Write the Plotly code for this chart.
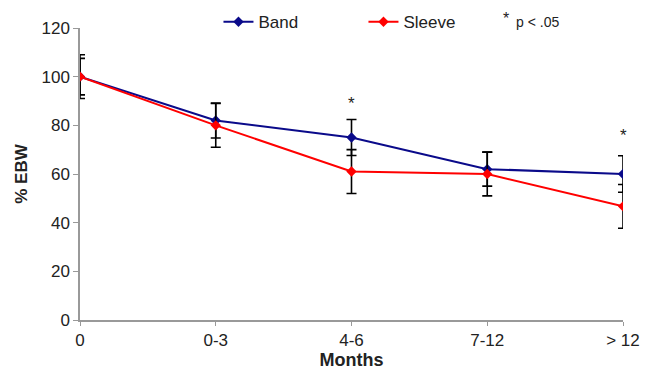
import plotly.graph_objects as go

categories = ["0", "0-3", "4-6", "7-12", "> 12"]
band_values = [100, 82, 75, 62, 60]
band_err = [7.5, 7.2, 7.4, 7.0, 7.5]
sleeve_values = [100, 80, 61, 60, 46.7]
sleeve_err = [9, 9, 9, 9, 9]
sig_positions = [2, 4]
sig_heights = [89, 76]
y_ticks = [0, 20, 40, 60, 80, 100, 120]

xs = list(range(len(categories)))
FONT = "Liberation Sans, Arial, sans-serif"

fig = go.Figure()
fig.add_trace(go.Scatter(
    x=xs, y=band_values, name="Band", mode="lines+markers",
    line=dict(color="#0a0a8a", width=2),
    marker=dict(symbol="diamond", size=8, color="#0a0a8a"),
    error_y=dict(type="data", array=band_err, visible=True, color="black", thickness=1.6, width=5),
))
fig.add_trace(go.Scatter(
    x=xs, y=sleeve_values, name="Sleeve", mode="lines+markers",
    line=dict(color="#ff0000", width=2),
    marker=dict(symbol="diamond", size=8, color="#ff0000"),
    error_y=dict(type="data", array=sleeve_err, visible=True, color="black", thickness=1.6, width=5),
))

for p, h in zip(sig_positions, sig_heights):
    fig.add_annotation(x=p, y=h, text="*", showarrow=False,
                       font=dict(family=FONT, size=17, color="#222"))

fig.add_annotation(xref="paper", yref="paper", x=0.777, y=1.066, text="*", showarrow=False,
                   xanchor="left", yanchor="top", borderpad=0,
                   font=dict(family=FONT, size=16, color="#222"))
fig.add_annotation(xref="paper", yref="paper", x=0.8, y=1.02, text="p < .05", showarrow=False,
                   xanchor="left", yanchor="middle", font=dict(family=FONT, size=14, color="#222"))

fig.update_layout(
    width=643, height=366,
    margin=dict(l=72, r=28, t=20, b=54, autoexpand=False),
    plot_bgcolor="white", paper_bgcolor="white",
    font=dict(family=FONT, size=17, color="#222"),
    showlegend=True,
    legend=dict(orientation="h", x=0.255, y=1.02, xanchor="left", yanchor="middle",
                entrywidth=100, entrywidthmode="pixels",
                font=dict(family=FONT, size=17, color="#222"),
                bgcolor="rgba(0,0,0,0)"),
    xaxis=dict(range=[0, 4], tickvals=xs, ticktext=categories,
               showgrid=False, zeroline=False, showline=True, linecolor="#999", linewidth=1.5,
               ticks="outside", ticklen=4, tickcolor="#999",
               title=dict(text="<b>Months</b>", font=dict(family=FONT, size=18), standoff=0)),
    yaxis=dict(range=[0, 120], tickvals=y_ticks,
               showgrid=False, zeroline=False, showline=True, linecolor="#999", linewidth=1.5,
               ticks="outside", ticklen=5, tickcolor="#999",
               title=dict(text="<b>% EBW</b>", font=dict(family=FONT, size=17), standoff=10)),
)

fig.write_html("out.html")
